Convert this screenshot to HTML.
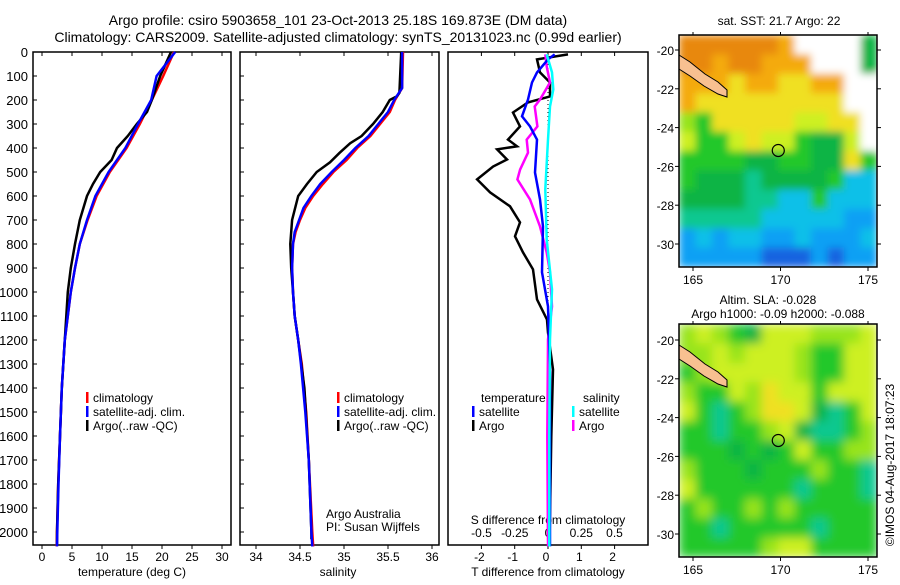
<!DOCTYPE html>
<html><head><meta charset="utf-8">
<style>
body{margin:0;background:#fff;}
svg text{font-family:"Liberation Sans",sans-serif;fill:#000;}
</style></head>
<body>
<svg id="fig" width="900" height="580" viewBox="0 0 900 580" xmlns="http://www.w3.org/2000/svg">
<defs>
<filter id="blur1" filterUnits="userSpaceOnUse" x="679" y="35" width="198" height="232"><feGaussianBlur stdDeviation="4" edgeMode="duplicate"/></filter>
<filter id="blur2" filterUnits="userSpaceOnUse" x="679" y="324" width="198" height="233"><feGaussianBlur stdDeviation="5" edgeMode="duplicate"/></filter>
</defs>
<text x="338" y="25" font-size="14" text-anchor="middle">Argo profile: csiro 5903658_101 23-Oct-2013 25.18S 169.873E (DM data)</text>
<text x="338" y="42" font-size="14" text-anchor="middle">Climatology: CARS2009. Satellite-adjusted climatology: synTS_20131023.nc (0.99d earlier)</text>
<g id="g1"></g>
<g id="g2"></g>
<g id="g3"></g>
<g id="m1"></g>
<g id="m2"></g>
<text x="779" y="25" font-size="12" text-anchor="middle">sat. SST: 21.7  Argo: 22</text>
<text x="768" y="304" font-size="12" text-anchor="middle">Altim. SLA: -0.028</text>
<text x="778" y="318" font-size="12" text-anchor="middle">Argo h1000: -0.09 h2000: -0.088</text>
<text transform="translate(894,465) rotate(-90)" font-size="12" text-anchor="middle">©IMOS 04-Aug-2017 18:07:23</text>
</svg>
<script>
// ---- data ----
const depthTicks=[0,100,200,300,400,500,600,700,800,900,1000,1100,1200,1300,1400,1500,1600,1700,1800,1900,2000];
const tTicks=[0,5,10,15,20,25,30];
const sTicks=[34,34.5,35,35.5,36];
const dTTicks=[-2,-1,0,1,2];
const dSTicks=[-0.5,-0.25,0,0.25,0.5];
const dSTickLabels=["-0.5","-0.25","0","0.25","0.5"];

const tClimDepth=[0,100,200,300,400,500,600,700,800,900,1000,1200,1400,1600,1800,2000,2060];
const tClim=[22,20.2,18.3,16.3,14.1,11.3,9.1,7.6,6.3,5.5,4.8,3.8,3.3,3.0,2.7,2.5,2.45];
const tSatDepth=[0,100,200,300,400,500,600,700,800,900,1000,1200,1400,1600,1800,2000,2060];
const tSat=[22.2,19.1,18.2,16.0,13.9,11.1,8.9,7.5,6.3,5.5,4.8,3.8,3.3,3.0,2.75,2.55,2.5];
const tArgoDepth=[0,100,200,250,300,350,400,450,500,550,600,700,800,900,1000,1200,1400,1600,1800,2000,2050];
const tArgo=[21.5,19.7,18.3,17.5,15.8,14.3,12.5,11.6,9.7,8.5,7.5,6.3,5.5,4.8,4.3,3.8,3.3,3.0,2.7,2.5,2.5];

const sClimDepth=[0,150,200,250,300,350,400,450,500,550,600,650,700,750,800,900,1000,1100,1200,1300,1500,1700,2000,2060];
const sClim=[35.67,35.66,35.58,35.52,35.41,35.3,35.15,35.03,34.88,34.76,34.65,34.56,34.5,34.45,34.42,34.41,34.42,34.44,34.48,34.52,34.57,34.6,34.64,34.65];
const sSatDepth=[0,150,200,250,300,350,400,450,500,550,600,650,700,750,800,900,1000,1100,1200,1300,1500,1700,2000,2060];
const sSat=[35.66,35.66,35.57,35.5,35.39,35.28,35.13,35.0,34.86,34.73,34.63,34.54,34.49,34.44,34.42,34.41,34.42,34.44,34.48,34.51,34.56,34.6,34.63,34.64];
const sArgoDepth=[0,170,185,200,250,300,350,380,420,460,500,550,600,700,800,900,1000,1100,1200,1400,1700,2000,2030];
const sArgo=[35.65,35.63,35.6,35.52,35.44,35.33,35.2,35.07,34.95,34.84,34.69,34.58,34.48,34.41,34.39,34.4,34.42,34.44,34.48,34.55,34.6,34.63,34.63];

const dTArgoDepth=[10,31,85,127,185,210,252,310,365,393,406,448,477,531,585,643,710,768,835,906,1031,1115,1169,1323,1600,2000,2050];
const dTArgo=[0.6,-0.33,-0.24,0.06,0.06,-0.6,-1.05,-0.84,-1.2,-0.93,-1.53,-1.23,-1.65,-2.13,-1.74,-1.14,-0.84,-0.99,-0.75,-0.45,-0.33,-0.03,0,0.15,0.1,0.05,0.05];
const dTSatDepth=[10,31,85,127,198,268,310,365,502,614,727,918,1060,1335,1700,2060];
const dTSat=[0.2,0,-0.33,-0.48,-0.6,-0.78,-0.54,-0.33,-0.39,-0.24,-0.15,-0.18,0,0.06,0.06,0.06];
const dSArgoDepth=[10,60,127,198,227,310,365,419,490,531,614,727,835,918,1060,1198,1600,2060];
const dSArgo=[-0.02,-0.01,0.015,-0.06,-0.1,-0.08,-0.16,-0.15,-0.21,-0.23,-0.135,-0.06,-0.01,0.015,0.03,0,-0.005,0];
const dSSatDepth=[10,85,156,227,365,572,781,989,1198,1600,2060];
const dSSat=[-0.01,0.03,0.04,0.015,0,-0.02,-0.01,0.03,0.015,0.01,0.01];

const lonTicks=[165,170,175];
const latTicks=[-20,-22,-24,-26,-28,-30];
const sstGrid=["OOOOOOoWWWWg","OOoOOoooWWWg","oooYooYYooWW","oYYYYYYYYYWW","LGYYYYYyyYYW","yGGyYyyGggyW","GGGGggGGggYG","GgggTggggGCC","ggggTTCCGCCC","TTTTTCCCCCBB","BCBCCBBCBBBC","BBBBBDDDBDBB"];
const slaGrid=["LyLGgyyyLLLy","LLyLyyyLGGyy","GLyyyyyLGGyy","LGGyLYyyGyyy","yGTGLYYygTGy","GGTGGLygTTGL","GGGgGgGyGGLL","LGGGgGGGLGGT","yGGGGGGTGGGT","GLGGLGLGGGGG","GGTGGGGGTGGG","GGGGGLyyGGGG"];
const argoLon=169.873, argoLat=-25.18;

// ---- helpers ----
const NS="http://www.w3.org/2000/svg";
function mk(tag,attrs,parent){const e=document.createElementNS(NS,tag);for(const k in attrs)e.setAttribute(k,attrs[k]);parent.appendChild(e);return e;}
const top0=52, bot0=545;
const yD=d=>top0+d*0.24;
function lineFromArrays(parent,xs,ds,xf,color,name,w){
  const pts=xs.map((v,i)=>xf(v).toFixed(1)+","+yD(ds[i]).toFixed(1)).join(" ");
  const p=mk("polyline",{points:pts,fill:"none",stroke:color,"stroke-width":w||2.5,"stroke-linejoin":"miter"},parent);
  
  
}
function box(parent,x0,x1,name){
  const r=mk("rect",{x:x0,y:top0,width:x1-x0,height:bot0-top0,fill:"none",stroke:"#000","stroke-width":1.5},parent);
  
  
}
function txt(parent,x,y,s,size,anchor,name){
  const t=mk("text",{x:x,y:y,"font-size":size,"text-anchor":anchor||"middle"},parent);t.textContent=s;
  
  
  return t;
}
function legend(parent,x,y,color,label,name){
  const r=mk("rect",{x:x,y:y-10,width:2.5,height:11,fill:color},parent);
  
  
  txt(parent,x+7,y,label,12,"start",name+'-label');
}

// ---- panel 1 temperature ----
const g1=document.getElementById("g1");
const xT=v=>42+6*v;
box(g1,33,231,"temperature-plot-frame");
depthTicks.forEach(d=>{mk("line",{x1:33,x2:37,y1:yD(d),y2:yD(d),stroke:"#000"},g1);txt(g1,28,yD(d)+5,String(d),13,"end","depth-tick-label");});
tTicks.forEach(v=>{mk("line",{x1:xT(v),x2:xT(v),y1:top0,y2:top0+4,stroke:"#000"},g1);mk("line",{x1:xT(v),x2:xT(v),y1:bot0,y2:bot0+4,stroke:"#000"},g1);txt(g1,xT(v),561,String(v),12,"middle","temperature-tick-label");});
txt(g1,132,576,"temperature (deg C)",12,"middle","temperature-axis-title");
lineFromArrays(g1,tClim,tClimDepth,xT,"#f00","temperature-climatology-line");
lineFromArrays(g1,tArgo,tArgoDepth,xT,"#000","temperature-argo-line");
lineFromArrays(g1,tSat,tSatDepth,xT,"#00f","temperature-satellite-line");
legend(g1,86,402,"#f00","climatology","temp-legend-climatology");
legend(g1,86,416,"#00f","satellite-adj. clim.","temp-legend-satellite");
legend(g1,86,430,"#000","Argo(..raw -QC)","temp-legend-argo");

// ---- panel 2 salinity ----
const g2=document.getElementById("g2");
const xS=v=>256+88*(v-34);
box(g2,240,439,"salinity-plot-frame");
depthTicks.forEach(d=>{mk("line",{x1:240,x2:244,y1:yD(d),y2:yD(d),stroke:"#000"},g2);});
sTicks.forEach(v=>{mk("line",{x1:xS(v),x2:xS(v),y1:top0,y2:top0+4,stroke:"#000"},g2);mk("line",{x1:xS(v),x2:xS(v),y1:bot0,y2:bot0+4,stroke:"#000"},g2);txt(g2,xS(v),561,String(v),12,"middle","salinity-tick-label");});
txt(g2,338,576,"salinity",12,"middle","salinity-axis-title");
lineFromArrays(g2,sClim,sClimDepth,xS,"#f00","salinity-climatology-line");
lineFromArrays(g2,sArgo,sArgoDepth,xS,"#000","salinity-argo-line");
lineFromArrays(g2,sSat,sSatDepth,xS,"#00f","salinity-satellite-line");
legend(g2,337,402,"#f00","climatology","sal-legend-climatology");
legend(g2,337,416,"#00f","satellite-adj. clim.","sal-legend-satellite");
legend(g2,337,430,"#000","Argo(..raw -QC)","sal-legend-argo");
txt(g2,326,518,"Argo Australia",12,"start","credit-argo-australia");
txt(g2,326,531,"PI: Susan Wijffels",12,"start","credit-pi");

// ---- panel 3 differences ----
const g3=document.getElementById("g3");
const xDT=v=>548+33.3*v;
const xDS=v=>548+133*v;
box(g3,448,648,"difference-plot-frame");
dTTicks.forEach(v=>{mk("line",{x1:xDT(v),x2:xDT(v),y1:top0,y2:top0+4,stroke:"#000"},g3);mk("line",{x1:xDT(v),x2:xDT(v),y1:bot0,y2:bot0+4,stroke:"#000"},g3);txt(g3,xDT(v)-2,561,String(v),12,"middle","t-diff-tick-label");});
dSTicks.forEach((v,i)=>{txt(g3,xDS(v),537,dSTickLabels[i],12,"middle","s-diff-tick-label");});
txt(g3,548,524,"S difference from climatology",12,"middle","s-diff-axis-title");
txt(g3,548,576,"T difference from climatology",12,"middle","t-diff-axis-title");
mk("line",{x1:548,x2:548,y1:top0,y2:bot0,stroke:"#000","stroke-dasharray":"1,3"},g3);
lineFromArrays(g3,dTArgo,dTArgoDepth,xDT,"#000","t-diff-argo-line");
lineFromArrays(g3,dSArgo,dSArgoDepth,xDS,"#f0f","s-diff-argo-line");
lineFromArrays(g3,dTSat,dTSatDepth,xDT,"#00f","t-diff-satellite-line");
lineFromArrays(g3,dSSat,dSSatDepth,xDS,"#0ff","s-diff-satellite-line");
txt(g3,481,402,"temperature",12,"start","diff-legend-temperature-heading");
txt(g3,583,402,"salinity",12,"start","diff-legend-salinity-heading");
legend(g3,472,416,"#00f","satellite","diff-legend-t-satellite");
legend(g3,472,430,"#000","Argo","diff-legend-t-argo");
legend(g3,572,416,"#0ff","satellite","diff-legend-s-satellite");
legend(g3,572,430,"#f0f","Argo","diff-legend-s-argo");

// ---- maps ----
const pal={O:"#e8880c",o:"#f4aa10",Y:"#f0e020",y:"#cdf020",L:"#98e41c",G:"#20c82c",g:"#10b444",T:"#10c890",C:"#10c0e8",B:"#10a0f4",D:"#1464e0",W:"#ffffff"};
function drawMap(id,grid,y0,y1,lat20,filt){
  const g=document.getElementById(id);
  const x0=679,x1=877;
  const lonX=l=>693+(l-165)*17.5;
  const latY=l=>lat20+(-20-l)*19.4;
  const nr=grid.length,nc=grid[0].length,cw=(x1-x0)/nc,ch=(y1-y0)/nr;
  const cells=mk("g",{filter:"url(#"+filt+")"},g);
  
  
  grid.forEach((row,r)=>{for(let c=0;c<nc;c++){const cell=mk("rect",{x:x0+c*cw,y:y0+r*ch,width:cw+0.5,height:ch+0.5,fill:pal[row[c]]},cells);
    
    }});
  const off=lat20-50;
  const isl=mk("polygon",{points:[[679,55],[690,62],[705,74],[718,82],[727,90],[727,97],[718,94],[704,86],[690,76],[679,69]].map(p=>p[0]+","+(p[1]+off)).join(" "),fill:"#f8c090",stroke:"#000","stroke-width":1},g);
  
  
  const fr=mk("rect",{x:x0,y:y0,width:x1-x0,height:y1-y0,fill:"none",stroke:"#000","stroke-width":1.5},g);
  
  
  const ci=mk("circle",{cx:lonX(argoLon),cy:latY(argoLat),r:6,fill:"none",stroke:"#000","stroke-width":1.2},g);
  
  
  lonTicks.forEach(l=>{mk("line",{x1:lonX(l),x2:lonX(l),y1:y1,y2:y1+4,stroke:"#000"},g);mk("line",{x1:lonX(l),x2:lonX(l),y1:y0-3,y2:y0,stroke:"#000"},g);txt(g,lonX(l),y1+17,String(l),12,"middle","map-lon-label");});
  latTicks.forEach(l=>{mk("line",{x1:x0-4,x2:x0,y1:latY(l),y2:latY(l),stroke:"#000"},g);mk("line",{x1:x1,x2:x1+4,y1:latY(l),y2:latY(l),stroke:"#000"},g);txt(g,674,latY(l)+5,String(l),12,"end","map-lat-label");});
}
drawMap("m1",sstGrid,35,267,50,"blur1");
drawMap("m2",slaGrid,324,557,340,"blur2");
</script>
</body></html>
